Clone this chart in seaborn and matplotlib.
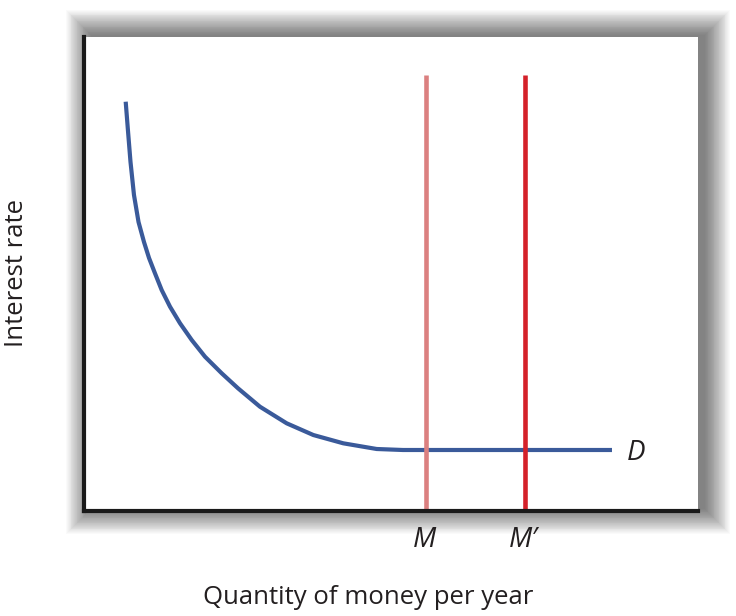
import numpy as np
import pandas as pd
import matplotlib
matplotlib.use("Agg")
import matplotlib.pyplot as plt
from matplotlib.patches import Rectangle
import seaborn as sns

# demand curve D (axes scaled 0-10)
d_x = [0.679, 0.713, 0.757, 0.814, 0.888, 0.977, 1.059, 1.156, 1.265, 1.401,
       1.564, 1.754, 1.971, 2.243, 2.508, 2.866, 3.301, 3.735, 4.223, 4.767,
       5.195, 8.599]
d_y = [8.635, 8.074, 7.369, 6.667, 6.097, 5.675, 5.338, 5.015, 4.662, 4.310,
       3.960, 3.608, 3.255, 2.905, 2.589, 2.200, 1.850, 1.603, 1.428, 1.308,
       1.287, 1.287]

# money supply lines
m_x = [5.57, 7.18]
m_top = 9.20
m_labels = ["M", "M\u2032"]
m_colors = ["#DB8080", "#D4212A"]

sns.set_style("white")
plt.rcParams['font.family'] = ['Open Sans', 'DejaVu Sans']
txt = "#231f20"

fig = plt.figure(figsize=(7.36, 6.16), dpi=100)
W, H = 736, 616
left, right, top, bottom = 84, 698, 37, 511
ax = fig.add_axes([left / W, (H - bottom) / H, (right - left) / W, (bottom - top) / H])

# soft drop shadow round the frame
for k in range(30):
    pad = k * 0.85
    r = Rectangle(((left - pad + 7) / W, (H - bottom - pad + 2) / H),
                  (right - left + 2 * pad) / W, (bottom - top + 2 * pad) / H,
                  transform=fig.transFigure, facecolor="black", alpha=0.018,
                  edgecolor="none", zorder=-5)
    fig.patches.append(r)

curve = pd.DataFrame({"q": d_x, "r": d_y})
sns.lineplot(data=curve, x="q", y="r", ax=ax, color="#3A5A9A", linewidth=3,
             sort=False, estimator=None, solid_joinstyle="round",
             solid_capstyle="butt")

for xv, lab, col in zip(m_x, m_labels, m_colors):
    seg = pd.DataFrame({"q": [xv, xv], "r": [0, m_top]})
    sns.lineplot(data=seg, x="q", y="r", ax=ax, color=col, linewidth=3.3,
                 estimator=None, solid_capstyle="butt")
    ax.text(xv - 0.03, -0.61, lab, ha="center", va="center", fontsize=20,
            style="italic", color=txt, clip_on=False)

ax.text(d_x[-1] + 0.39, d_y[-1] - 0.07, "D", ha="center", va="center",
        fontsize=20, style="italic", color=txt)

ax.set_xlim(0, 10)
ax.set_ylim(0, 10)
ax.set_xticks([])
ax.set_yticks([])
ax.set_xlabel("")
ax.set_ylabel("")
for s in ["top", "right"]:
    ax.spines[s].set_visible(False)
for s in ["left", "bottom"]:
    ax.spines[s].set_color("#1a1a1a")
    ax.spines[s].set_linewidth(3)

fig.text(368 / W, (H - 597) / H, "Quantity of money per year", ha="center",
         va="center", fontsize=18.5, color=txt)
fig.text(17 / W, (H - 273) / H, "Interest rate", ha="center", va="center",
         fontsize=18.5, rotation=90, color=txt)

fig.savefig("out.png", dpi=100)
